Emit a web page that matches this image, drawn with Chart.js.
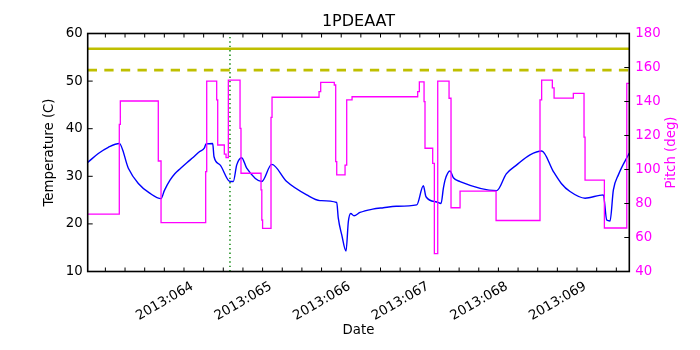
<!DOCTYPE html>
<html><head><meta charset="utf-8">
<script src="https://cdn.jsdelivr.net/npm/chart.js@4.4.1/dist/chart.umd.min.js"></script>
<style>html,body{margin:0;padding:0;background:#fff}#wrap{width:700px;height:350px}</style>
</head><body><div id="wrap"><canvas id="c" width="700" height="350"></canvas></div>
<script>
// ---- data (x in day-of-year 2013) ----
const titleText = '1PDEAAT';
const xTitle = 'Date';
const yTitle = 'Temperature (C)';
const y2Title = 'Pitch (deg)';
const xMin = 63.025, xMax = 69.915;
const tempDays = [63.025,63.160,63.287,63.427,63.542,63.669,63.818,63.958,64.000,64.072,64.136,64.202,64.290,64.369,64.450,64.508,64.530,64.615,64.632,64.708,64.835,64.877,64.921,64.984,65.048,65.239,65.366,65.557,65.811,65.980,66.193,66.213,66.257,66.311,66.341,66.371,66.413,66.489,66.650,66.786,66.950,67.211,67.295,67.329,67.465,67.520,67.550,67.571,67.634,67.677,67.762,68.229,68.350,68.483,68.652,68.801,68.949,69.050,69.161,69.352,69.585,69.628,69.670,69.712,69.776,69.915];
const tempVals = [32.9,34.8,36.1,36.9,31.7,28.5,26.4,25.3,27.0,29.2,30.6,31.6,32.9,34.0,35.2,35.9,36.8,36.9,34.1,32.4,28.9,28.9,32.4,33.9,31.7,28.9,32.5,28.9,26.1,24.9,24.5,21.2,17.7,14.3,20.5,22.2,21.7,22.4,23.1,23.4,23.7,24.0,28.0,25.7,24.6,24.3,27.5,29.2,31.1,29.7,28.9,27.0,30.5,32.4,34.5,35.3,31.0,28.5,26.8,25.4,26.1,20.8,20.6,27.1,30.3,34.9];
const pitchDays = [63.025,63.427,63.440,63.923,63.958,64.526,64.539,64.666,64.679,64.763,64.785,64.814,64.963,64.975,65.230,65.240,65.250,65.357,65.370,65.968,65.989,66.162,66.180,66.193,66.299,66.320,66.388,67.223,67.244,67.304,67.316,67.414,67.435,67.478,67.622,67.647,67.762,68.220,68.779,68.800,68.936,68.958,69.203,69.339,69.352,69.598,69.883,69.915];
const pitchVals = [73.8,126.6,140.3,105,68.7,98.7,152,140.9,114.4,109.1,107,152.6,124.2,97.8,88,70.3,65.4,130.7,142.5,145.8,151.3,149.7,104.6,96.8,102.6,140.9,142.8,145.8,151.6,139.9,112.5,103.6,50.5,152,141.9,77.5,87.3,70.0,141,152.6,148,142,144.8,119,93.8,65.6,150.7,150.7];
const limitHigh = 56.8;
const limitPlan = 52.3;
const markerDay = 64.835;

const FONT = 'DejaVu Sans';
const FS = 13.3;

const decor = {
  id: 'decor',
  afterDatasetsDraw(chart) {
    const {ctx, chartArea: a, scales: {x, y, y2}} = chart;
    ctx.save();
    ctx.strokeStyle = '#000';
    ctx.lineWidth = 1;
    ctx.beginPath();
    x.ticks.forEach(t => {
      const px = x.getPixelForValue(t.value);
      ctx.moveTo(px, a.bottom); ctx.lineTo(px, a.bottom - 4);
      ctx.moveTo(px, a.top); ctx.lineTo(px, a.top + 4);
    });
    y.ticks.forEach(t => {
      const py = y.getPixelForValue(t.value);
      ctx.moveTo(a.left, py); ctx.lineTo(a.left + 5, py);
    });
    y2.ticks.forEach(t => {
      const py = y2.getPixelForValue(t.value);
      ctx.moveTo(a.right, py); ctx.lineTo(a.right - 5, py);
    });
    ctx.stroke();
    ctx.lineWidth = 1.6;
    ctx.strokeRect(a.left, a.top, a.right - a.left, a.bottom - a.top);
    // texts
    const cy = (a.top + a.bottom) / 2, cx = (a.left + a.right) / 2;
    ctx.textAlign = 'center';
    ctx.textBaseline = 'middle';
    ctx.fillStyle = '#000';
    ctx.font = '16px "' + FONT + '"';
    ctx.fillText(titleText, cx, 22);
    ctx.font = FS + 'px "' + FONT + '"';
    ctx.fillText(xTitle, cx, 331);
    ctx.save();
    ctx.translate(50, cy); ctx.rotate(-Math.PI / 2);
    ctx.fillText(yTitle, 0, 0);
    ctx.restore();
    ctx.save();
    ctx.fillStyle = '#ff00ff';
    ctx.translate(672, cy); ctx.rotate(-Math.PI / 2);
    ctx.fillText(y2Title, 0, 0);
    ctx.restore();
    ctx.restore();
  }
};

new Chart(document.getElementById('c'), {
  type: 'line',
  data: {
    datasets: [
      {
        label: 'Pitch', yAxisID: 'y2', order: 0,
        data: pitchDays.map((d, i) => ({x: d, y: pitchVals[i]})),
        borderColor: '#ff00ff', borderWidth: 1.3, pointRadius: 0, stepped: true, fill: false
      },
      {
        label: 'marker', yAxisID: 'y', order: 1,
        data: [{x: markerDay, y: 10}, {x: markerDay, y: 60}],
        borderColor: '#008000', borderWidth: 1.4, borderDash: [1.4, 3], pointRadius: 0, fill: false
      },
      {
        label: 'Temperature', yAxisID: 'y', order: 2,
        data: tempDays.map((d, i) => ({x: d, y: tempVals[i]})),
        borderColor: '#0000ff', borderWidth: 1.4, pointRadius: 0, cubicInterpolationMode: 'monotone', fill: false
      },
      {
        label: 'limit', yAxisID: 'y', order: 3,
        data: [{x: xMin, y: limitHigh}, {x: xMax, y: limitHigh}],
        borderColor: '#bfbf00', borderWidth: 2.6, pointRadius: 0, fill: false
      },
      {
        label: 'planning', yAxisID: 'y', order: 3,
        data: [{x: xMin, y: limitPlan}, {x: xMax, y: limitPlan}],
        borderColor: '#bfbf00', borderWidth: 2.6, borderDash: [9.3, 7.3], pointRadius: 0, fill: false
      }
    ]
  },
  options: {
    responsive: false,
    animation: false,
    events: [],
    layout: {padding: {left: 0, right: 0, top: 33.5, bottom: 0}},
    plugins: {legend: {display: false}, title: {display: false}, tooltip: {enabled: false}},
    scales: {
      x: {
        type: 'linear', position: 'bottom', min: xMin, max: xMax,
        grid: {display: false, drawTicks: false},
        border: {display: false},
        afterFit: s => { s.height = 350 - 271.5; },
        ticks: {
          stepSize: 0.25, includeBounds: false, autoSkip: false,
          minRotation: 30, maxRotation: 30, padding: 7, labelOffset: 28,
          color: '#000', font: {family: FONT, size: FS},
          callback: v => (Math.abs(v - Math.round(v)) < 1e-6 ? '2013:0' + Math.round(v) : '')
        }
      },
      y: {
        position: 'left', min: 10, max: 60,
        grid: {display: false, drawTicks: false},
        border: {display: false},
        afterFit: s => { s.width = 87.7; },
        ticks: {stepSize: 10, padding: 5, color: '#000', font: {family: FONT, size: FS}}
      },
      y2: {
        position: 'right', min: 40, max: 180,
        grid: {display: false, drawTicks: false},
        border: {display: false},
        afterFit: s => { s.width = 700 - 629.3; },
        ticks: {stepSize: 20, padding: 6, color: '#ff00ff', font: {family: FONT, size: FS}}
      }
    }
  },
  plugins: [decor]
});
</script></body></html>
